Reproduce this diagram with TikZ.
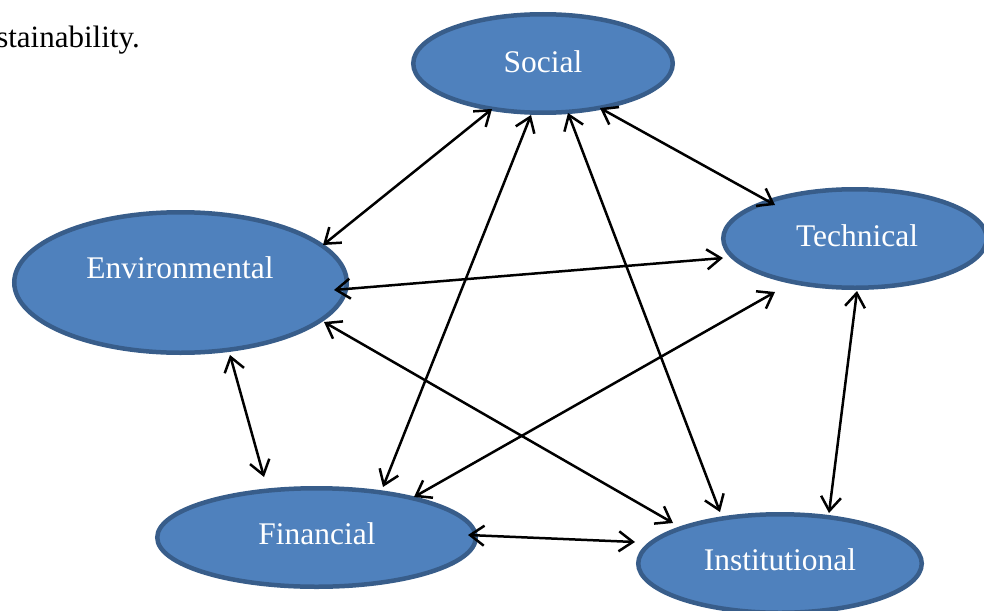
\documentclass[tikz,border=0pt]{standalone}
\usepackage{fontspec}
\setmainfont{Liberation Serif}
\usetikzlibrary{arrows.meta,calc,shapes.geometric}
\definecolor{ellfill}{HTML}{4F81BD}
\definecolor{elldraw}{HTML}{385D8A}
\begin{document}
\begin{tikzpicture}[x=1pt,y=-1pt,
  bubble/.style={ellipse, draw=elldraw, fill=ellfill, line width=4.5pt, inner sep=0pt},
  lbl/.style={text=white, font=\fontsize{31.5}{37}\selectfont, anchor=base, inner sep=0pt},
  link/.style={line width=2.5pt, {Straight Barb[length=14pt,width=20pt]}-{Straight Barb[length=14pt,width=20pt]}}]
\useasboundingbox (0,0) rectangle (984,610);
\clip (0,0) rectangle (984,610);
\node[anchor=base east, font=\fontsize{31}{36}\selectfont, inner sep=0pt] (cap) at (140,48) {stainability.};
% ellipses
\node[bubble, minimum width=259.5pt, minimum height=98.5pt] (s) at (543,63.5) {};
\node[bubble, minimum width=263.5pt, minimum height=98.5pt] (t) at (855,238.5) {};
\node[bubble, minimum width=332.5pt, minimum height=140.5pt] (e) at (180.5,282.5) {};
\node[bubble, minimum width=318.5pt, minimum height=98.5pt] (f) at (316.5,537.5) {};
\node[bubble, minimum width=283.5pt, minimum height=98.5pt] (i) at (780,563.5) {};
% labels
\node[lbl] (sl) at (543,72) {Social};
\node[lbl] (tl) at (857,246) {Technical};
\node[lbl] (el) at (180,278) {Environmental};
\node[lbl] (fl) at (317,544) {Financial};
\node[lbl] (il) at (780,570) {Institutional};
% connectors
\draw[link] ($(s)+(-51,45.5)$) -- ($(e)+(142.5,-37.5)$);
\draw[link] ($(s)+(-12,51.5)$) -- ($(f)+(66.5,-50.5)$);
\draw[link] ($(s)+(25,49.5)$) -- ($(i)+(-60,-51.5)$);
\draw[link] ($(s)+(57,44.5)$) -- ($(t)+(-80,-33.5)$);
\draw[link] ($(e)+(153.5,7.5)$) -- ($(t)+(-132,19.5)$);
\draw[link] ($(e)+(143.5,39.5)$) -- ($(i)+(-107,-40.5)$);
\draw[link] ($(e)+(49.5,72.5)$) -- ($(f)+(-52.5,-60.5)$);
\draw[link] ($(f)+(97.5,-40.5)$) -- ($(t)+(-80,53.5)$);
\draw[link] ($(f)+(151.5,-2.5)$) -- ($(i)+(-145,-21.5)$);
\draw[link] ($(t)+(2,52.5)$) -- ($(i)+(49,-50.5)$);
\end{tikzpicture}
\end{document}
